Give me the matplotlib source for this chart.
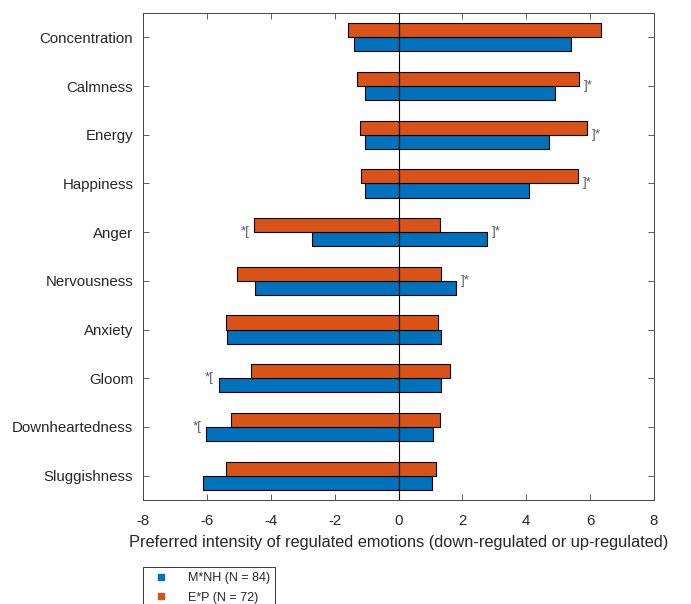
import matplotlib
matplotlib.use("Agg")
import matplotlib.pyplot as plt
from matplotlib.lines import Line2D
import numpy as np

plt.rcParams["font.family"] = ["Liberation Sans", "DejaVu Sans"]
plt.rcParams["axes.unicode_minus"] = False

emotions = ["Concentration", "Calmness", "Energy", "Happiness", "Anger",
            "Nervousness", "Anxiety", "Gloom", "Downheartedness", "Sluggishness"]

# down-regulated (negative) and up-regulated (positive) preferred intensities
mnh_down = [-1.39, -1.05, -1.05, -1.05, -2.70, -4.49, -5.37, -5.63, -6.02, -6.12]
mnh_up = [5.40, 4.91, 4.71, 4.09, 2.76, 1.81, 1.33, 1.33, 1.09, 1.06]
ep_down = [-1.58, -1.29, -1.20, -1.16, -4.51, -5.05, -5.40, -4.62, -5.24, -5.40]
ep_up = [6.34, 5.66, 5.91, 5.62, 1.29, 1.33, 1.25, 1.61, 1.29, 1.18]

# significant group differences: side of the bar pair
sig_up = [False, True, True, True, True, True, False, False, False, False]
sig_down = [False, False, False, False, True, False, False, True, True, False]

labels = ["M*NH (N = 84)", "E*P (N = 72)"]
BLUE = "#0072BD"
ORANGE = "#D95319"
GREY = "#262626"

fig = plt.figure(figsize=(6.91, 6.04), dpi=100)
ax = fig.add_axes([143 / 691, 1 - 500 / 604, 511 / 691, 487 / 604])

y = np.arange(1, len(emotions) + 1)
h = 0.29
for vals, off, c in [(mnh_down, h / 2, BLUE), (mnh_up, h / 2, BLUE),
                     (ep_down, -h / 2, ORANGE), (ep_up, -h / 2, ORANGE)]:
    ax.barh(y + off, vals, height=h, color=c, edgecolor="black", lw=0.8, zorder=2)

ax.axvline(0, color="black", lw=0.8, zorder=3)

for i in range(len(emotions)):
    if sig_up[i]:
        xr = max(mnh_up[i], ep_up[i])
        ax.text(xr + 0.15, y[i], "]*", ha="left", va="center", fontsize=9.5,
                color="#555555")
    if sig_down[i]:
        xl = min(mnh_down[i], ep_down[i])
        ax.text(xl - 0.15, y[i], "*[", ha="right", va="center", fontsize=9.5,
                color="#555555")

ax.set_xlim(-8, 8)
ax.set_ylim(10.5, 0.5)
ax.set_xticks(np.arange(-8, 9, 2))
ax.set_yticks(y)
ax.set_yticklabels(emotions)
ax.tick_params(direction="in", top=True, right=True, length=4, width=0.6,
               color="#444444", labelcolor=GREY, labelsize=10.8)
ax.tick_params(axis="x", pad=10)
ax.tick_params(axis="y", pad=7)
for s in ax.spines.values():
    s.set_color("#444444")
    s.set_linewidth(0.7)
ax.set_xlabel("Preferred intensity of regulated emotions (down-regulated or up-regulated)",
              fontsize=11.8, color=GREY, labelpad=5)

# legend sits below the axes and runs past the bottom edge, as in the original
handles = [Line2D([], [], ls="none", marker="s", ms=5, color=BLUE),
           Line2D([], [], ls="none", marker="s", ms=5, color=ORANGE)]
leg = fig.legend(handles, labels, loc="upper left",
                 bbox_to_anchor=(143 / 691, 1 - 567 / 604), borderaxespad=0,
                 fontsize=9, frameon=True, fancybox=False, edgecolor="black",
                 borderpad=0.4, labelspacing=0.6, handletextpad=1.2,
                 labelcolor=GREY)
leg.get_frame().set_linewidth(0.7)

fig.savefig("out.png", dpi=100)
